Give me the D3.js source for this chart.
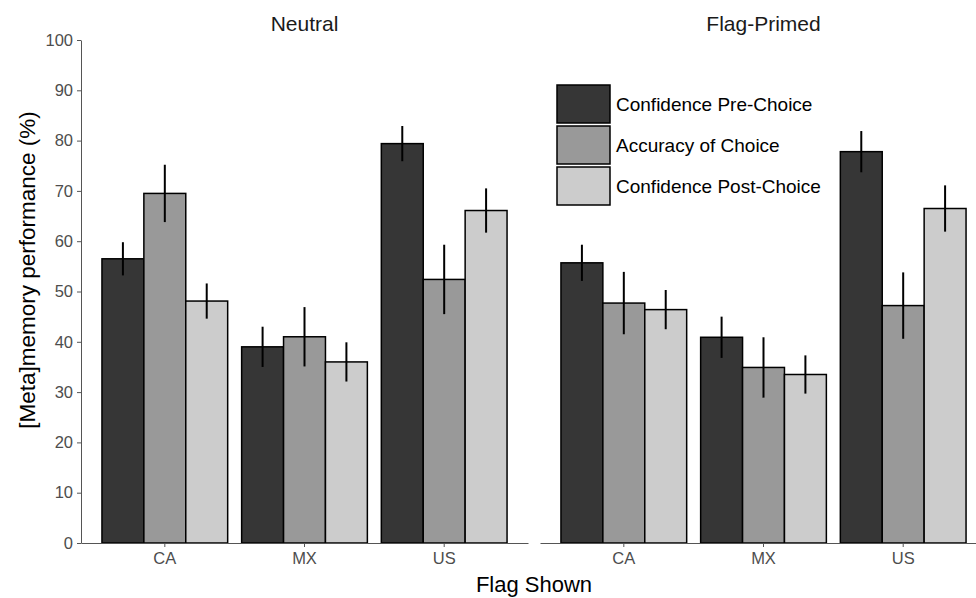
<!DOCTYPE html>
<html>
<head>
<meta charset="utf-8">
<title>flag memory</title>
<script src="https://cdn.jsdelivr.net/npm/d3@7"></script>
<style>
  body { margin: 0; background: #fff; }
  text { font-family: "Liberation Sans", Arial, sans-serif; }
  .tick text { fill: #4d4d4d; font-size: 16.5px; }
  .tick line, .domain { stroke: #555; }
</style>
</head>
<body>
<svg width="976" height="598"></svg>
<script>
// categories
var flags = ["CA", "MX", "US"];
var panels = ["Neutral", "Flag-Primed"];
var measures = ["Confidence Pre-Choice", "Accuracy of Choice", "Confidence Post-Choice"];
var yTicks = [0, 10, 20, 30, 40, 50, 60, 70, 80, 90, 100];

// means (%) per flag
var preNeutral  = [56.5, 39.0, 79.4];
var accNeutral  = [69.5, 41.0, 52.4];
var postNeutral = [48.1, 36.0, 66.1];
var prePrimed   = [55.7, 40.9, 77.8];
var accPrimed   = [47.7, 34.9, 47.2];
var postPrimed  = [46.4, 33.5, 66.5];

// error bar half widths
var preNeutralErr  = [3.3, 4.0, 3.5];
var accNeutralErr  = [5.7, 5.9, 6.9];
var postNeutralErr = [3.5, 3.9, 4.4];
var prePrimedErr   = [3.6, 4.1, 4.1];
var accPrimedErr   = [6.2, 6.0, 6.6];
var postPrimedErr  = [3.9, 3.8, 4.6];

var fills = ["#363636", "#999999", "#cccccc"];

var panelData = [
  { name: panels[0], means: [preNeutral, accNeutral, postNeutral], errs: [preNeutralErr, accNeutralErr, postNeutralErr], x0: 81 },
  { name: panels[1], means: [prePrimed, accPrimed, postPrimed], errs: [prePrimedErr, accPrimedErr, postPrimedErr], x0: 540 }
];

var svg = d3.select("svg"),
    panelW = 447,
    yTop = 40, yBottom = 543;

var y = d3.scaleLinear().domain([0, 100]).range([yBottom, yTop]);
var fill = d3.scaleOrdinal().domain(measures).range(fills);

// y axis only on the left panel
svg.append("g")
  .attr("transform", "translate(81,0)")
  .call(d3.axisLeft(y).tickValues(yTicks).tickSize(4).tickSizeOuter(0).tickPadding(4));

panelData.forEach(function(p) {
  var x = d3.scaleBand().domain(flags).range([p.x0, p.x0 + panelW])
    .paddingInner(0.1).paddingOuter(0.15);
  var xm = d3.scaleBand().domain(measures).range([0, x.bandwidth()]);

  var rows = [];
  flags.forEach(function(f, i) {
    measures.forEach(function(m, j) {
      rows.push({ flag: f, measure: m, v: p.means[j][i], e: p.errs[j][i] });
    });
  });

  var g = svg.append("g");
  g.selectAll("rect").data(rows).enter().append("rect")
    .attr("x", function(d) { return x(d.flag) + xm(d.measure); })
    .attr("y", function(d) { return y(d.v); })
    .attr("width", xm.bandwidth())
    .attr("height", function(d) { return y(0) - y(d.v); })
    .attr("fill", function(d) { return fill(d.measure); })
    .attr("stroke", "#000")
    .attr("stroke-width", 1.5);

  g.selectAll("line.err").data(rows).enter().append("line")
    .attr("class", "err")
    .attr("x1", function(d) { return x(d.flag) + xm(d.measure) + xm.bandwidth() / 2; })
    .attr("x2", function(d) { return x(d.flag) + xm(d.measure) + xm.bandwidth() / 2; })
    .attr("y1", function(d) { return y(d.v + d.e); })
    .attr("y2", function(d) { return y(d.v - d.e); })
    .attr("stroke", "#000")
    .attr("stroke-width", 2);

  svg.append("g")
    .attr("transform", "translate(0," + yBottom + ")")
    .call(d3.axisBottom(x).tickSize(4).tickSizeOuter(0).tickPadding(5));

  svg.append("text")
    .attr("x", p.x0 + panelW / 2)
    .attr("y", 31)
    .attr("text-anchor", "middle")
    .attr("font-size", "21px")
    .attr("fill", "#1a1a1a")
    .text(p.name);
});

// axis titles
svg.append("text")
  .attr("x", 534).attr("y", 592)
  .attr("text-anchor", "middle")
  .attr("font-size", "22px")
  .text("Flag Shown");

svg.append("text")
  .attr("transform", "translate(35,270) rotate(-90)")
  .attr("text-anchor", "middle")
  .attr("font-size", "22.5px")
  .text("[Meta]memory performance (%)");

// legend
var legend = svg.append("g").attr("transform", "translate(557,85)");
var lg = legend.selectAll("g").data(measures).enter().append("g")
  .attr("transform", function(d, i) { return "translate(0," + i * 41 + ")"; });
lg.append("rect")
  .attr("width", 53).attr("height", 38)
  .attr("fill", function(d) { return fill(d); })
  .attr("stroke", "#000").attr("stroke-width", 1.5);
lg.append("text")
  .attr("x", 59).attr("y", 19).attr("dy", "0.35em")
  .attr("font-size", "19px")
  .text(function(d) { return d; });
</script>
</body>
</html>
